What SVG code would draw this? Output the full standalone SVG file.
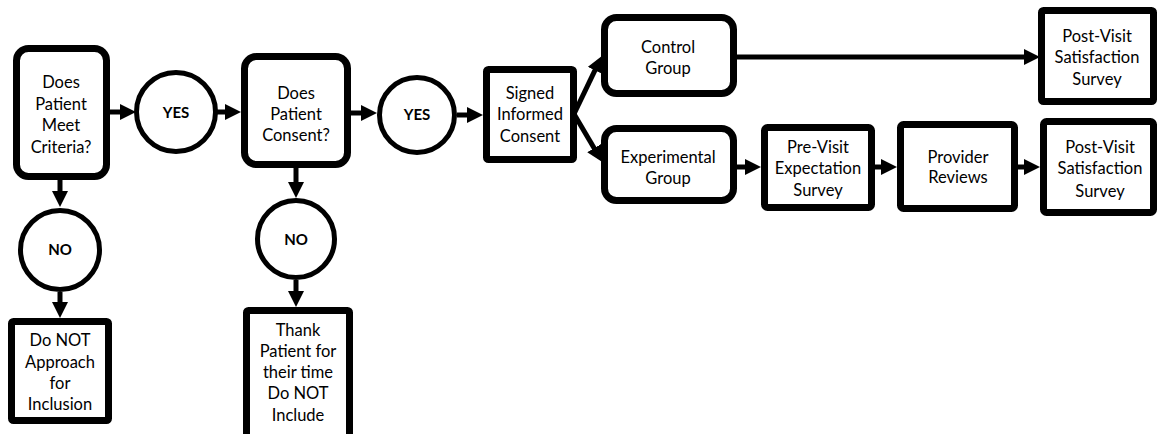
<svg xmlns="http://www.w3.org/2000/svg" width="1158" height="434" viewBox="0 0 1158 434">
<style>
.box{fill:#fff;stroke:#000;stroke-width:7}
.circ{fill:#fff;stroke:#000;stroke-width:5}
.t{font-family:Lato,"Open Sans","Liberation Sans",sans-serif;font-size:16.5px;fill:#000;text-anchor:middle}
.b{font-family:Lato,"Open Sans","Liberation Sans",sans-serif;font-size:15px;font-weight:bold;fill:#000;text-anchor:middle}
.c{stroke:#000;stroke-width:5;fill:none;marker-end:url(#ah)}
</style>
<defs>
<marker id="ah" markerUnits="userSpaceOnUse" markerWidth="16" markerHeight="16" refX="8" refY="8" orient="auto" viewBox="0 0 16 16">
<path d="M0,0 L16,8 L0,16 z" fill="#000"/>
</marker>
</defs>
<rect width="1158" height="434" fill="#fff"/>
<g id="connectors">
<line class="c" x1="110" y1="112" x2="128" y2="112"/>
<line class="c" x1="216" y1="112" x2="233" y2="112"/>
<line class="c" x1="351" y1="113" x2="369" y2="113"/>
<line class="c" x1="457" y1="115" x2="475" y2="115"/>
<line class="c" x1="574" y1="114" x2="598.4" y2="63.2"/>
<line class="c" x1="574" y1="114" x2="598.2" y2="155"/>
<line class="c" x1="737" y1="57" x2="1032" y2="57"/>
<line class="c" x1="737" y1="167" x2="753" y2="167"/>
<line class="c" x1="875" y1="167" x2="889" y2="167"/>
<line class="c" x1="1018" y1="167" x2="1032" y2="167"/>
<line class="c" x1="60" y1="180" x2="60" y2="199"/>
<line class="c" x1="60" y1="292" x2="60" y2="310"/>
<line class="c" x1="296" y1="168" x2="296" y2="190"/>
<line class="c" x1="296" y1="280" x2="296" y2="299"/>
</g>
<g id="meet-criteria">
<rect class="box" x="16.5" y="48.5" width="90" height="128" rx="12"/>
<text class="t" x="61" y="88">Does</text>
<text class="t" x="61" y="109.5">Patient</text>
<text class="t" x="61" y="131">Meet</text>
<text class="t" x="61" y="152.5">Criteria?</text>
</g>
<g id="yes1">
<circle class="circ" cx="176" cy="112" r="39.5"/>
<text class="b" x="176" y="118">YES</text>
</g>
<g id="consent">
<rect class="box" x="244.5" y="56.5" width="103" height="108" rx="12"/>
<text class="t" x="296" y="99">Does</text>
<text class="t" x="296" y="120">Patient</text>
<text class="t" x="296" y="141">Consent?</text>
</g>
<g id="yes2">
<circle class="circ" cx="417" cy="115" r="37.5"/>
<text class="b" x="417" y="120">YES</text>
</g>
<g id="signed">
<rect class="box" x="486.5" y="69.5" width="87" height="90" rx="2"/>
<text class="t" x="530" y="99">Signed</text>
<text class="t" x="530" y="120">Informed</text>
<text class="t" x="530" y="142">Consent</text>
</g>
<g id="control">
<rect class="box" x="604.5" y="17.5" width="129" height="76" rx="12"/>
<text class="t" x="668" y="53">Control</text>
<text class="t" x="668" y="74">Group</text>
</g>
<g id="experimental">
<rect class="box" x="604.5" y="128.5" width="129" height="72" rx="12"/>
<text class="t" x="668" y="163">Experimental</text>
<text class="t" x="668" y="184">Group</text>
</g>
<g id="post-visit-control">
<rect class="box" x="1041.5" y="10.5" width="112" height="91" rx="2"/>
<text class="t" x="1097" y="42">Post-Visit</text>
<text class="t" x="1097" y="63">Satisfaction</text>
<text class="t" x="1097" y="85">Survey</text>
</g>
<g id="pre-visit">
<rect class="box" x="764.5" y="127.5" width="107" height="80" rx="3"/>
<text class="t" x="818" y="153">Pre-Visit</text>
<text class="t" x="818" y="174">Expectation</text>
<text class="t" x="818" y="196">Survey</text>
</g>
<g id="provider">
<rect class="box" x="900.5" y="124.5" width="114" height="84" rx="3"/>
<text class="t" x="958" y="163">Provider</text>
<text class="t" x="958" y="183">Reviews</text>
</g>
<g id="post-visit-exp">
<rect class="box" x="1043.5" y="121.5" width="110" height="91" rx="3"/>
<text class="t" x="1100" y="153">Post-Visit</text>
<text class="t" x="1100" y="174">Satisfaction</text>
<text class="t" x="1100" y="197">Survey</text>
</g>
<g id="no1">
<circle class="circ" cx="60" cy="250" r="39.5"/>
<text class="b" x="60" y="255">NO</text>
</g>
<g id="do-not-approach">
<rect class="box" x="11.5" y="321.5" width="97" height="99" rx="2"/>
<text class="t" x="60" y="346">Do NOT</text>
<text class="t" x="60" y="368">Approach</text>
<text class="t" x="60" y="389">for</text>
<text class="t" x="60" y="410">Inclusion</text>
</g>
<g id="no2">
<circle class="circ" cx="296" cy="239" r="38.5"/>
<text class="b" x="296" y="245">NO</text>
</g>
<g id="thank">
<rect class="box" x="246.5" y="310.5" width="103" height="130" rx="2"/>
<text class="t" x="298" y="336">Thank</text>
<text class="t" x="298" y="357">Patient for</text>
<text class="t" x="298" y="378">their time</text>
<text class="t" x="298" y="399">Do NOT</text>
<text class="t" x="298" y="421">Include</text>
</g>
</svg>
